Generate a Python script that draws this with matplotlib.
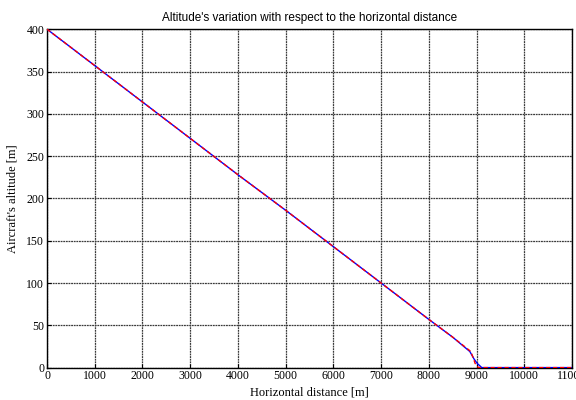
import matplotlib
matplotlib.use("Agg")
import matplotlib.pyplot as plt

# Data
dist_red = [0, 1000, 2000, 3000, 4000, 5000, 6000, 7000, 8000, 8500, 8860, 8900, 8935, 8970, 9040, 9500, 10000, 11000]
alt_red = [400, 357, 314, 271, 228, 186, 143, 100, 57, 36, 20, 16, 11, 5, 0, 0, 0, 0]
dist_blue = [0, 1000, 2000, 3000, 4000, 5000, 6000, 7000, 8000, 8500, 8860, 8900, 8950, 9015, 9110, 9500, 10000, 11000]
alt_blue = [400, 357, 314, 271, 228, 186, 143, 100, 57, 36, 19, 15, 10, 5, 0, 0, 0, 0]

xticks = list(range(0, 11001, 1000))
yticks = list(range(0, 401, 50))

fig = plt.figure(figsize=(5.76, 4.0), dpi=100)
ax = fig.add_axes([0.0816, 0.081, 0.9114, 0.846])

ax.plot(dist_blue, alt_blue, color="blue", lw=1.0, zorder=3)
ax.plot(dist_red, alt_red, color="red", lw=1.0, ls=(0, (3, 2)), zorder=4)

ax.set_xlim(0, 11000)
ax.set_ylim(0, 400)
ax.set_xticks(xticks)
ax.set_yticks(yticks)
ax.grid(True, color="#3a3a3a", ls=(0, (1.5, 0.6)), lw=0.9)
ax.tick_params(direction="in", length=3, labelsize=8.5, pad=2)
for lbl in ax.get_xticklabels() + ax.get_yticklabels():
    lbl.set_fontfamily("Liberation Serif")
for s in ax.spines.values():
    s.set_linewidth(1.0)
    s.set_color("black")

ax.set_xlabel("Horizontal distance [m]", fontfamily="Liberation Serif", fontsize=9, labelpad=3)
ax.set_ylabel("Aircraft's altitude [m]", fontfamily="Liberation Serif", fontsize=9, labelpad=6)
ax.set_title("Altitude's variation with respect to the horizontal distance",
             fontfamily="Liberation Sans", fontsize=8.5, pad=6)

fig.savefig("out.png", dpi=100)
